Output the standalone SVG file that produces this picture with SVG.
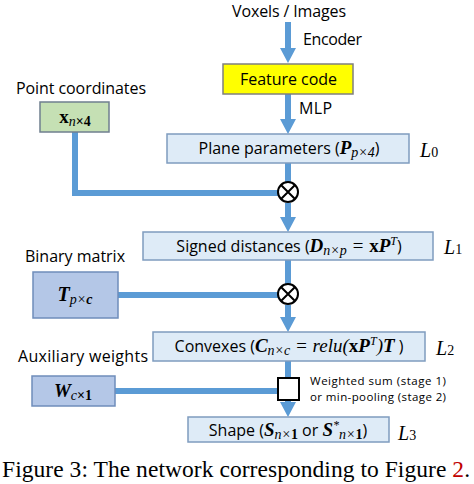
<svg xmlns="http://www.w3.org/2000/svg" width="474" height="484" viewBox="0 0 474 484">
<style>
.t{font-family:"Open Sans","Liberation Sans",sans-serif;font-size:16px;fill:#000}
.s{font-family:"Open Sans","Liberation Sans",sans-serif;font-size:11.5px;fill:#000}
.m{font-family:"Liberation Serif",serif;font-weight:bold;font-style:italic;font-size:19px}
.sub{font-family:"Liberation Serif",serif;font-style:italic;font-weight:normal;font-size:14px}
.subb{font-family:"Liberation Serif",serif;font-weight:bold;font-style:normal;font-size:14px}
.sup{font-family:"Liberation Serif",serif;font-style:italic;font-size:12px}
.mi{font-family:"Liberation Serif",serif;font-style:italic;font-weight:normal;font-size:19px}
.mr{font-family:"Liberation Serif",serif;font-weight:bold;font-style:normal;font-size:19px}
.L{font-family:"Liberation Serif",serif;font-style:italic;font-size:20px}
.Ls{font-family:"Liberation Serif",serif;font-style:normal;font-size:14px}
.cap{font-family:"Liberation Serif",serif;font-size:23.5px;fill:#000}
.wire{stroke:#5b9bd5;stroke-width:6;fill:none}
.box{fill:#deebf7;stroke:#7f9cbf;stroke-width:1.5}
.dbox{fill:#b4c7e7;stroke:#6f8dbb;stroke-width:1.5}
</style>
<defs>
<marker id="ah" markerUnits="userSpaceOnUse" markerWidth="16" markerHeight="16" refX="0" refY="8" orient="auto" viewBox="0 0 16 16">
<path d="M0,0 L15,8 L0,16 z" fill="#5b9bd5"/>
</marker>
</defs>
<g id="connectors">
<line class="wire" x1="288" y1="22" x2="288" y2="48" marker-end="url(#ah)"/>
<line class="wire" x1="288" y1="94" x2="288" y2="119" marker-end="url(#ah)"/>
<line class="wire" x1="288" y1="163" x2="288" y2="182"/>
<polyline class="wire" points="75,132 75,193 278,193"/>
<line class="wire" x1="288" y1="203" x2="288" y2="217" marker-end="url(#ah)"/>
<line class="wire" x1="288" y1="260" x2="288" y2="284"/>
<line class="wire" x1="118" y1="295" x2="278" y2="295"/>
<line class="wire" x1="288" y1="305" x2="288" y2="317" marker-end="url(#ah)"/>
<line class="wire" x1="288" y1="361" x2="288" y2="378"/>
<line class="wire" x1="115" y1="391" x2="278" y2="391"/>
<line class="wire" x1="288" y1="400" x2="288" y2="402" marker-end="url(#ah)"/>
<text class="t" x="303" y="45" textLength="59">Encoder</text>
<text class="t" x="299" y="114" textLength="33">MLP</text>
</g>
<g id="input">
<text class="t" x="232" y="17" textLength="114">Voxels / Images</text>
</g>
<g id="feature">
<rect x="223" y="64" width="130" height="30" fill="#ffff00" stroke="#7f7f7f" stroke-width="1.5"/>
<text class="t" x="240" y="85" textLength="97">Feature code</text>
</g>
<g id="points">
<text class="t" x="16" y="94" textLength="130">Point coordinates</text>
<rect x="40" y="102" width="69" height="30" fill="#c5e0b4" stroke="#6f7f8f" stroke-width="1.5"/>
<text x="75" y="123" text-anchor="middle"><tspan class="mr">x</tspan><tspan dy="3" class="sub">n</tspan><tspan class="subb">×4</tspan></text>
</g>
<g id="plane">
<rect class="box" x="167" y="134" width="242" height="29"/>
<text class="t" x="289" y="154" text-anchor="middle">Plane parameters (<tspan class="m">P</tspan><tspan dy="3" class="sub">p</tspan><tspan class="sub">×4</tspan><tspan dy="-3">)</tspan></text>
<text x="420" y="157" class="L">L<tspan class="Ls">0</tspan></text>
</g>
<g id="mul1">
<circle cx="288" cy="192" r="10" fill="#fff" stroke="#000" stroke-width="2"/>
<path d="M281,185 L295,199 M295,185 L281,199" stroke="#000" stroke-width="2"/>
</g>
<g id="signed">
<rect class="box" x="143" y="232" width="290" height="28"/>
<text class="t" x="289" y="252" text-anchor="middle">Signed distances (<tspan class="m">D</tspan><tspan dy="3" class="sub">n×p</tspan><tspan dy="-3" class="mi"> = </tspan><tspan class="mr">x</tspan><tspan class="m">P</tspan><tspan dy="-7" class="sup">T</tspan><tspan dy="7">)</tspan></text>
<text x="444" y="254" class="L">L<tspan class="Ls">1</tspan></text>
</g>
<g id="binary">
<text class="t" x="25" y="262" textLength="100">Binary matrix</text>
<rect class="dbox" x="33" y="272" width="85" height="46"/>
<text x="75" y="301" text-anchor="middle"><tspan class="m" style="font-size:20px">T</tspan><tspan dy="3" class="sub">p</tspan><tspan class="sub">×</tspan><tspan class="m" style="font-size:14px">c</tspan></text>
</g>
<g id="mul2">
<circle cx="288" cy="294" r="10" fill="#fff" stroke="#000" stroke-width="2"/>
<path d="M281,287 L295,301 M295,287 L281,301" stroke="#000" stroke-width="2"/>
</g>
<g id="convexes">
<rect class="box" x="153" y="332" width="272" height="29"/>
<text class="t" x="289" y="352" text-anchor="middle">Convexes (<tspan class="m">C</tspan><tspan dy="3" class="sub">n×c</tspan><tspan dy="-3" class="mi"> = relu(</tspan><tspan class="mr">x</tspan><tspan class="m">P</tspan><tspan dy="-7" class="sup">T</tspan><tspan dy="7" class="mi">)</tspan><tspan class="m">T</tspan> )</text>
<text x="436" y="355" class="L">L<tspan class="Ls">2</tspan></text>
</g>
<g id="aux">
<text class="t" x="18" y="362" textLength="130">Auxiliary weights</text>
<rect class="dbox" x="32" y="376" width="83" height="30"/>
<text x="73" y="397" text-anchor="middle"><tspan class="m">W</tspan><tspan dy="3" class="sub">c</tspan><tspan class="subb">×1</tspan></text>
</g>
<g id="pool">
<rect x="278" y="378" width="21" height="22" fill="#fff" stroke="#000" stroke-width="2"/>
<text class="s" x="310" y="385" textLength="136">Weighted sum (stage 1)</text>
<text class="s" x="310" y="401" textLength="136">or min-pooling (stage 2)</text>
</g>
<g id="shape">
<rect class="box" x="188" y="417" width="201" height="25"/>
<text class="t" x="288" y="436" text-anchor="middle">Shape (<tspan class="m">S</tspan><tspan dy="3" class="sub">n×</tspan><tspan class="subb">1</tspan><tspan dy="-3"> or </tspan><tspan class="m">S</tspan><tspan dy="-7" class="sup">*</tspan><tspan dy="10" class="sub">n×</tspan><tspan class="subb">1</tspan><tspan dy="-3">)</tspan></text>
<text x="398" y="440" class="L">L<tspan class="Ls">3</tspan></text>
</g>
<g id="caption">
<text class="cap" x="2" y="477" textLength="468">Figure 3: The network corresponding to Figure <tspan fill="#c00000">2</tspan>.</text>
</g>
</svg>
